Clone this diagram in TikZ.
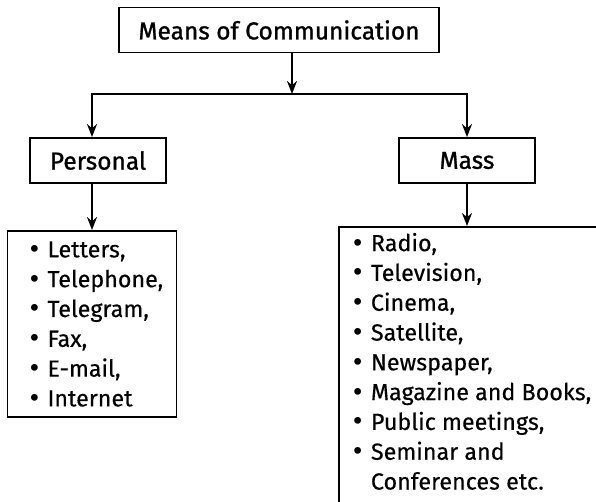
\documentclass[tikz,border=0pt]{standalone}
\usepackage{fontspec}
\setmainfont[FakeBold=0.35]{Fira Sans}
\newfontfamily\headfont[FakeBold=1.1]{Fira Sans}
\newfontfamily\dotfont{DejaVu Sans}
\usetikzlibrary{arrows.meta}
\newcommand{\itm}[1]{\makebox[20pt][l]{\dotfont •}#1}

\begin{document}
\begin{tikzpicture}[x=1pt, y=-1pt, line width=1.9pt,
       >={Stealth[length=13pt, width=10pt]},
       headbox/.style={draw, font=\headfont\fontsize{24.5}{28}\selectfont, minimum height=45pt, inner sep=0pt},
       listbox/.style={draw, font=\fontsize{23.3}{29.8}\selectfont, inner ysep=6pt}]
       \useasboundingbox (0, 0) rectangle (596, 501);
       \clip (0, 0) rectangle (596, 501);

       \draw (279, 30) node[headbox, minimum width=320pt](means){Means of Communication}
       (98, 160.5) node[headbox, minimum width=136pt](personal){Personal}
       (467, 160.5) node[headbox, minimum width=136pt](mass){Mass}
       (92, 324) node[listbox, minimum width=169pt, minimum height=186pt, inner xsep=20pt](plist){\parbox{129pt}{\raggedright
         \itm{Letters,}\\ \itm{Telephone,}\\ \itm{Telegram,}\\ \itm{Fax,}\\ \itm{E-mail,}\\ \itm{Internet}}}
       (338, 226) node[listbox, anchor=north west, inner xsep=12pt](mlist){\parbox[t][290pt][t]{270pt}{\raggedright
         \itm{Radio,}\\ \itm{Television,}\\ \itm{Cinema,}\\ \itm{Satellite,}\\ \itm{Newspaper,}\\
         \itm{Magazine and Books,}\\ \itm{Public meetings,}\\ \itm{Seminar and}\\ \hspace*{20pt}Conferences etc.}};

       \coordinate (j) at (292, 94);
       \draw[->] (j |- means.south) -- (j);
       \draw[->] (j) -| (plist.north |- personal.north);
       \draw[->] (j) -| (mass.north);
       \draw[->] (personal.south -| plist.north) -- (plist.north);
       \draw[->] (mass.south) -- (mass.south |- mlist.north);
    \end{tikzpicture}
\end{document}
